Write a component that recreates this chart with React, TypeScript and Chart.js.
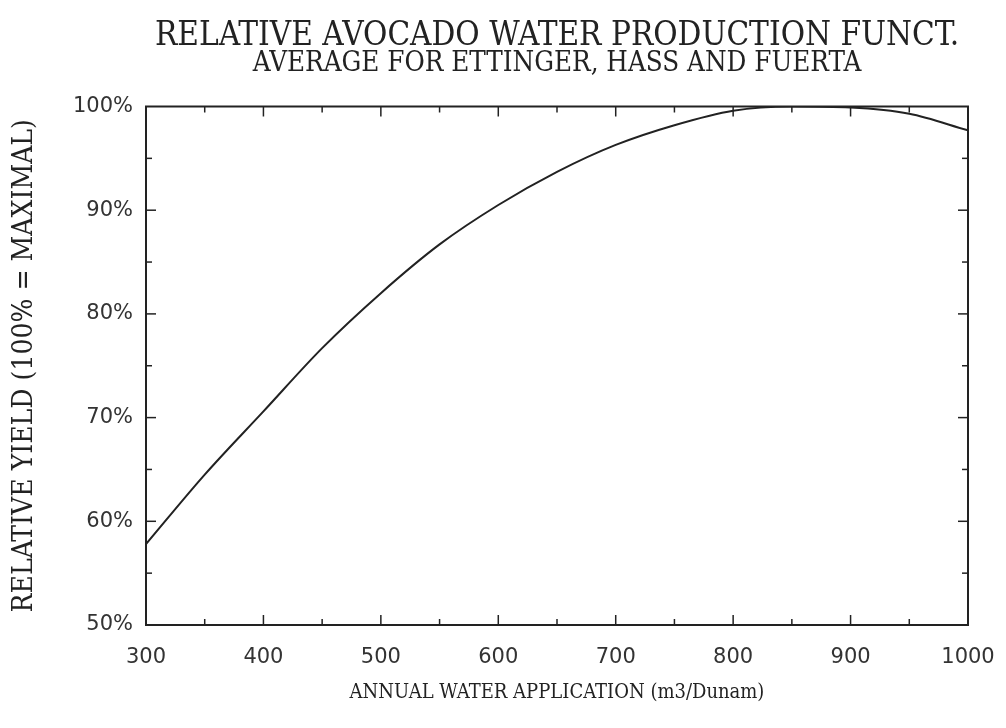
import React, { useEffect, useRef } from "react";
import { Chart, registerables } from "chart.js";

Chart.register(...registerables);

const TITLE = "RELATIVE AVOCADO WATER PRODUCTION FUNCT.";
const SUBTITLE = "AVERAGE FOR ETTINGER, HASS AND FUERTA";
const X_TITLE = "ANNUAL WATER APPLICATION (m3/Dunam)";
const Y_TITLE = "RELATIVE YIELD (100% = MAXIMAL)";

const waterApplication = [300, 350, 400, 450, 500, 550, 600, 650, 700, 750, 800, 850, 900, 950, 1000];
const relativeYield = [57.8, 64.5, 70.6, 76.7, 82.0, 86.7, 90.5, 93.7, 96.3, 98.2, 99.6, 100, 99.9, 99.3, 97.7];

const X_RANGE = [300, 1000];
const X_MAJOR = 100;
const X_MINOR = 50;
const Y_RANGE = [50, 100];
const Y_MAJOR = 10;
const Y_MINOR = 5;

const INK = "#222";
const SERIF = "'DejaVu Serif Condensed', 'Liberation Serif', serif";

const frameTicks = {
  id: "frameTicks",
  afterDatasetsDraw(chart: any) {
    const { ctx, chartArea: a, scales } = chart;
    const x = scales.x;
    const y = scales.y;
    ctx.save();
    ctx.strokeStyle = INK;
    ctx.lineWidth = 1.5;
    const seg = (x1: number, y1: number, x2: number, y2: number) => {
      ctx.beginPath();
      ctx.moveTo(x1, y1);
      ctx.lineTo(x2, y2);
      ctx.stroke();
    };
    for (let v = X_RANGE[0] + X_MINOR; v < X_RANGE[1]; v += X_MINOR) {
      const px = x.getPixelForValue(v);
      const len = v % X_MAJOR === 0 ? 10 : 6;
      seg(px, a.bottom, px, a.bottom - len);
      seg(px, a.top, px, a.top + len);
    }
    for (let v = Y_RANGE[0] + Y_MINOR; v < Y_RANGE[1]; v += Y_MINOR) {
      const py = y.getPixelForValue(v);
      const len = v % Y_MAJOR === 0 ? 10 : 6;
      seg(a.left, py, a.left + len, py);
      seg(a.right, py, a.right - len, py);
    }
    ctx.lineWidth = 2;
    ctx.strokeRect(a.left, a.top, a.right - a.left, a.bottom - a.top);
    ctx.restore();
  },
};

export default function App() {
  const ref = useRef<HTMLCanvasElement | null>(null);

  useEffect(() => {
    if (!ref.current) return;
    const chart = new Chart(ref.current, {
      type: "line",
      data: {
        datasets: [
          {
            data: waterApplication.map((w, i) => ({ x: w, y: relativeYield[i] })),
            borderColor: INK,
            borderWidth: 2,
            pointRadius: 0,
            cubicInterpolationMode: "monotone",
            fill: false,
          },
        ],
      },
      options: {
        animation: false,
        responsive: false,
        maintainAspectRatio: false,
        layout: { padding: { left: 0, right: 38, top: 0, bottom: 0 } },
        plugins: {
          legend: { display: false },
          tooltip: { enabled: false },
          title: {
            display: true,
            fullSize: false,
            text: TITLE,
            color: INK,
            font: { family: SERIF, size: 33, weight: "normal", lineHeight: 1 },
            padding: { top: 20, bottom: 0 },
          },
          subtitle: {
            display: true,
            fullSize: false,
            text: SUBTITLE,
            color: INK,
            font: { family: SERIF, size: 27.5, weight: "normal", lineHeight: 0.6 },
            padding: { top: 3, bottom: 34 },
          },
        },
        scales: {
          x: {
            type: "linear",
            min: X_RANGE[0],
            max: X_RANGE[1],
            afterFit: (s: any) => {
              s.height = 103;
              s.paddingLeft = 0;
              s.paddingRight = 0;
            },
            ticks: {
              stepSize: X_MAJOR,
              color: "#333",
              padding: 20,
              maxRotation: 0,
              callback: (v: any) => String(v),
              font: { family: "'DejaVu Sans', sans-serif", size: 21 },
            },
            grid: { display: false, drawTicks: false },
            border: { display: false },
            title: {
              display: true,
              text: X_TITLE,
              color: INK,
              font: { family: SERIF, size: 20, lineHeight: 1 },
              padding: { top: 0, bottom: 25 },
            },
          },
          y: {
            min: Y_RANGE[0],
            max: Y_RANGE[1],
            afterFit: (s: any) => {
              s.width = 146;
            },
            ticks: {
              stepSize: Y_MAJOR,
              color: "#333",
              padding: 13,
              callback: (v: any) => `${v}%`,
              font: { family: "'DejaVu Sans', sans-serif", size: 21 },
            },
            grid: { display: false, drawTicks: false },
            border: { display: false },
            title: {
              display: true,
              text: Y_TITLE,
              color: INK,
              font: { family: SERIF, size: 28, lineHeight: 1 },
              padding: { top: 11, bottom: 0 },
            },
          },
        },
      },
      plugins: [frameTicks],
    } as any);
    return () => chart.destroy();
  }, []);

  return (
    <div style={{ position: "fixed", left: 0, top: 0, width: 1006, height: 728, background: "#fff" }}>
      <canvas ref={ref} width={1006} height={728} style={{ width: 1006, height: 728 }} />
    </div>
  );
}
